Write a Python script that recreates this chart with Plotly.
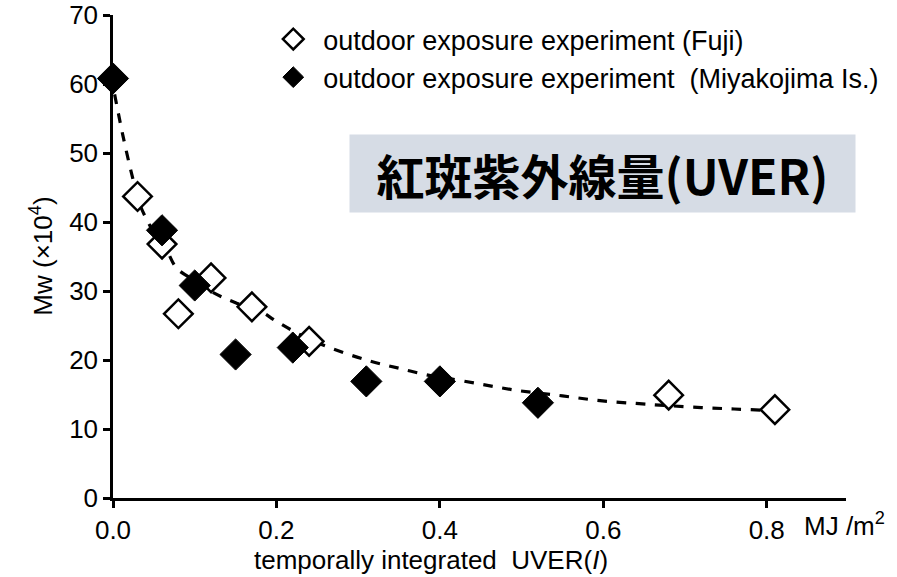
import plotly.graph_objects as go

# Data
fuji_x = [0.03, 0.06, 0.08, 0.12, 0.17, 0.24, 0.68, 0.81]
fuji_y = [43.7, 36.8, 26.7, 31.9, 27.7, 22.7, 14.9, 12.8]

miya_x = [0.0, 0.06, 0.10, 0.15, 0.22, 0.31, 0.40, 0.52]
miya_y = [60.8, 38.8, 30.8, 20.8, 21.8, 16.9, 16.9, 13.8]

fit_x = [0.002, 0.012, 0.023, 0.033, 0.049, 0.066, 0.078, 0.10, 0.122, 0.15, 0.18, 0.20,
         0.235, 0.265, 0.31, 0.35, 0.39, 0.412, 0.45, 0.494, 0.55, 0.596, 0.64, 0.677,
         0.72, 0.76, 0.80, 0.82]
fit_y = [58.5, 52.6, 46.9, 42.5, 38.7, 35.8, 33.3, 31.5, 29.8, 28.3, 27.1, 25.6,
         23.3, 21.8, 20.0, 18.8, 17.7, 17.3, 16.5, 15.6, 14.8, 14.1, 13.7, 13.4,
         13.1, 12.9, 12.7, 12.6]

x_ticks = [0.0, 0.2, 0.4, 0.6, 0.8]
x_tick_labels = ["0.0", "0.2", "0.4", "0.6", "0.8"]
y_ticks = [0, 10, 20, 30, 40, 50, 60, 70]

fig = go.Figure()

fig.add_trace(go.Scatter(x=fit_x, y=fit_y, mode="lines",
                         line=dict(color="black", width=3.2, dash="dash", shape="spline"),
                         showlegend=False, hoverinfo="skip"))

fig.add_trace(go.Scatter(x=fuji_x, y=fuji_y, mode="markers",
                         name="outdoor exposure experiment (Fuji)",
                         marker=dict(symbol="diamond", size=22, color="white",
                                     line=dict(color="black", width=2.5)),
                         cliponaxis=False))
fig.add_trace(go.Scatter(x=miya_x, y=miya_y, mode="markers",
                         name="outdoor exposure experiment  (Miyakojima Is.)",
                         marker=dict(symbol="diamond", size=24, color="black",
                                     line=dict(color="black", width=1)),
                         cliponaxis=False))

font_main = "Liberation Sans, Arial, sans-serif"

fig.update_layout(
    width=897, height=577,
    margin=dict(l=113, r=51, t=15, b=79, autoexpand=False),
    paper_bgcolor="white", plot_bgcolor="white",
    font=dict(family=font_main, size=26, color="black"),
    showlegend=True,
    legend=dict(x=0.205, y=1.0, xanchor="left", yanchor="top",
                bgcolor="rgba(0,0,0,0)", font=dict(size=27, family=font_main),
                itemwidth=50, tracegroupgap=0),
    xaxis=dict(range=[0, 0.897], tickvals=x_ticks, ticktext=x_tick_labels,
               showgrid=False, zeroline=False, showline=True, linecolor="black",
               linewidth=2.5, ticks="outside", ticklen=7, tickwidth=2.5,
               tickcolor="black", tickfont=dict(size=26)),
    yaxis=dict(range=[0, 70], tickvals=y_ticks, showgrid=False, zeroline=False,
               showline=True, linecolor="black", linewidth=2.5, ticks="outside",
               ticklen=7, tickwidth=2.5, tickcolor="black", tickfont=dict(size=26)),
)

# Axis titles as annotations
fig.add_annotation(text="temporally integrated  UVER(<i>I</i>)", xref="paper", yref="paper",
                   x=0.434, y=-0.128, xanchor="center", yanchor="middle", showarrow=False,
                   font=dict(size=26, family=font_main))
fig.add_annotation(text="MJ /m<sup>2</sup>", xref="paper", yref="paper",
                   x=0.94, y=-0.055, xanchor="left", yanchor="middle", showarrow=False,
                   font=dict(size=26, family=font_main))
fig.add_annotation(text="Mw (×10<sup>4</sup>)", xref="paper", yref="paper",
                   x=-0.098, y=0.5, xanchor="center", yanchor="middle", showarrow=False,
                   textangle=-90, font=dict(size=26, family=font_main))

# Shaded label box
fig.add_annotation(text="<b>紅斑紫外線量(UVER)</b>", xref="paper", yref="paper",
                   x=0.668, y=0.672, xanchor="center", yanchor="middle", showarrow=False,
                   bgcolor="#d6dce5", borderpad=0, width=505, height=77,
                   font=dict(size=48, family="Noto Sans CJK JP", color="black"))

fig.write_html("out.html")
